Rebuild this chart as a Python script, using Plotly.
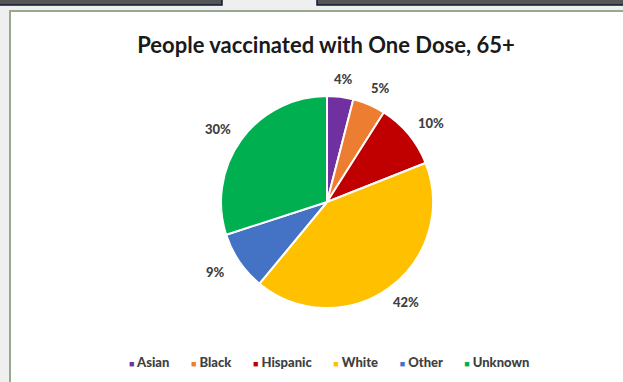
import math
import plotly.graph_objects as go

# Share of people 65+ vaccinated with one dose, by race/ethnicity
groups = ["Asian", "Black", "Hispanic", "White", "Other", "Unknown"]
shares = [4, 5, 10, 42, 9, 30]
slice_colors = ["#7030a0", "#ed7d31", "#c00000", "#ffc000", "#4472c4", "#00b050"]

W, H = 623, 382
cx, cy, r = 327, 202, 106  # pie centre and radius in pixels
gap = 12                   # clearance between the pie edge and a label box
half_w, half_h = 17, 6     # approximate half size of a label box
label_font = dict(family="Lato", size=13, color="#404040", weight=900)

fig = go.Figure(
    go.Pie(
        labels=groups,
        values=shares,
        sort=False,
        direction="clockwise",
        rotation=0,
        marker=dict(colors=slice_colors, line=dict(color="white", width=2)),
        textinfo="none",
        domain=dict(x=[(cx - r) / W, (cx + r) / W], y=[1 - (cy + r) / H, 1 - (cy - r) / H]),
        automargin=False,
        hoverinfo="label+percent",
        showlegend=False,
    )
)

# percentage labels placed outside the end of each slice, at the slice mid-angle
annotations = []
total = sum(shares)
cum = 0
for v in shares:
    theta = 2 * math.pi * (cum + v / 2) / total
    cum += v
    s, c = math.sin(theta), math.cos(theta)
    px = cx + (r + gap) * s + half_w * s
    py = cy - (r + gap) * c - half_h * c
    annotations.append(dict(
        x=px / W, y=1 - py / H, xref="paper", yref="paper",
        text=f"{round(100 * v / total)}%", showarrow=False,
        xanchor="center", yanchor="middle",
        font=label_font,
    ))

# compact legend line: small coloured squares followed by the group names
legend_parts = [
    f"<span style='color:{c};font-size:9px'>■</span>&nbsp;{g}" for g, c in zip(groups, slice_colors)
]
annotations.append(dict(
    x=329 / W, y=1 - 362 / H, xref="paper", yref="paper",
    text="&nbsp;&nbsp;&nbsp;&nbsp;&nbsp;&nbsp;&nbsp;".join(legend_parts), showarrow=False,
    xanchor="center", yanchor="middle",
    font=label_font,
))

shapes = [
    # chart panel
    dict(type="rect", xref="paper", yref="paper", x0=10 / W, x1=1.05, y0=-0.05, y1=1 - 11 / H,
         fillcolor="white", line=dict(color="#98a890", width=2), layer="below"),
    # dark tabs along the top edge
    dict(type="rect", xref="paper", yref="paper", x0=-0.01, x1=222 / W, y0=1 - 5 / H, y1=1.01,
         fillcolor="#555555", line=dict(color="#0f1a33", width=1.5), layer="below"),
    dict(type="rect", xref="paper", yref="paper", x0=317 / W, x1=1.01, y0=1 - 5 / H, y1=1.01,
         fillcolor="#555555", line=dict(color="#0f1a33", width=1.5), layer="below"),
]

fig.update_layout(
    width=W,
    height=H,
    margin=dict(l=0, r=0, t=0, b=0),
    paper_bgcolor="#efefef",
    plot_bgcolor="#efefef",
    shapes=shapes,
    annotations=annotations,
    title=dict(
        text="People vaccinated with One Dose, 65+",
        x=326 / W,
        xanchor="center",
        y=1 - 45 / H,
        yanchor="middle",
        font=dict(family="Lato", size=22, color="#1a1a1a", weight="bold"),
    ),
)

fig.write_html("out.html")
